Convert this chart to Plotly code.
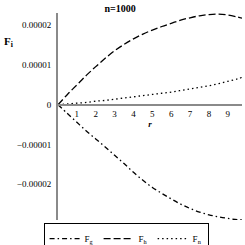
import plotly.graph_objects as go

# data
r = [0, 0.5, 1, 1.5, 2, 2.5, 3, 3.5, 4, 4.5, 5, 5.5, 6, 6.5, 7, 7.5, 8, 8.5, 9, 9.5, 9.75]
F_h = [0, 0.26, 0.50, 0.74, 0.96, 1.17, 1.36, 1.52, 1.66, 1.78, 1.88, 1.97, 2.05, 2.13, 2.19, 2.24, 2.27, 2.28, 2.26, 2.21, 2.18]
F_n = [0, 0.02, 0.04, 0.06, 0.09, 0.11, 0.14, 0.17, 0.20, 0.23, 0.26, 0.29, 0.32, 0.36, 0.40, 0.44, 0.48, 0.53, 0.59, 0.65, 0.69]
F_g = [0, -0.22, -0.44, -0.66, -0.86, -1.06, -1.27, -1.48, -1.70, -1.90, -2.08, -2.23, -2.37, -2.50, -2.61, -2.70, -2.77, -2.82, -2.86, -2.89, -2.90]
scale = 1e-5
series_names = ["F<sub>g</sub>", "F<sub>h</sub>", "F<sub>n</sub>"]
series_dash = ["5px,3px,1.5px,3px", "7px,3px", "1.5px,3px"]
y_tickvals = [-2e-5, -1e-5, 0, 1e-5, 2e-5]
y_ticktext = ["\u22120.00002", "\u22120.00001", "0", "0.00001", "0.00002"]
x_tickvals = [1, 2, 3, 4, 5, 6, 7, 8, 9]
title_text = "n=1000"

y_min, y_max = -2.9e-5, 2.31e-5
x_min, x_max = 0, 9.75

fig = go.Figure()
for name, vals, dash in zip(series_names, [F_g, F_h, F_n], series_dash):
    fig.add_trace(go.Scatter(x=r, y=[v * scale for v in vals], mode="lines", name=name,
                             line=dict(color="black", width=1.3, dash=dash, shape="spline")))

serif = "Liberation Serif, Times New Roman, serif"
fig.update_layout(
    template="none",
    width=245, height=245,
    margin=dict(l=58, r=3, t=13, b=25, autoexpand=False),
    paper_bgcolor="white", plot_bgcolor="white",
    font=dict(family=serif, size=9, color="black"),
    title=dict(text="<b>" + title_text + "</b>", x=0.49, xanchor="center", y=0.965, yanchor="middle",
               xref="container", yref="container", font=dict(size=10, family=serif, color="black")),
    showlegend=True,
    legend=dict(orientation="h", xref="paper", yref="paper", x=0.37, xanchor="center",
                y=-0.015, yanchor="top", bordercolor="black", borderwidth=1,
                font=dict(size=9, family=serif, color="black"), itemwidth=30, tracegroupgap=0,
                traceorder="normal", bgcolor="white"),
    xaxis=dict(range=[x_min, x_max], anchor="free", position=(0 - y_min) / (y_max - y_min),
               automargin=False,
               showline=True, linecolor="#8a8a8a", linewidth=2, showgrid=False, zeroline=False,
               tickvals=x_tickvals, ticks="", tickfont=dict(size=9, family=serif, color="black"),
               title=dict(text="<i><b>r</b></i>", standoff=2, font=dict(size=9, family=serif, color="black"))),
    yaxis=dict(range=[y_min, y_max], automargin=False, showline=True, linecolor="#8a8a8a", linewidth=2,
               showgrid=False, zeroline=False, tickvals=y_tickvals, ticktext=y_ticktext,
               ticks="", ticklabelstandoff=3, tickfont=dict(size=9, family=serif, color="black")),
)
fig.add_annotation(text="<b>F<sub>i</sub></b>", xref="paper", yref="paper", x=-0.265, y=0.86,
                   xanchor="center", yanchor="middle",
                   showarrow=False, font=dict(size=11, family=serif, color="black"))
fig.write_html("out.html", config={"displayModeBar": False},
               post_script="document.body.style.margin='0';document.body.style.overflow='hidden';")
